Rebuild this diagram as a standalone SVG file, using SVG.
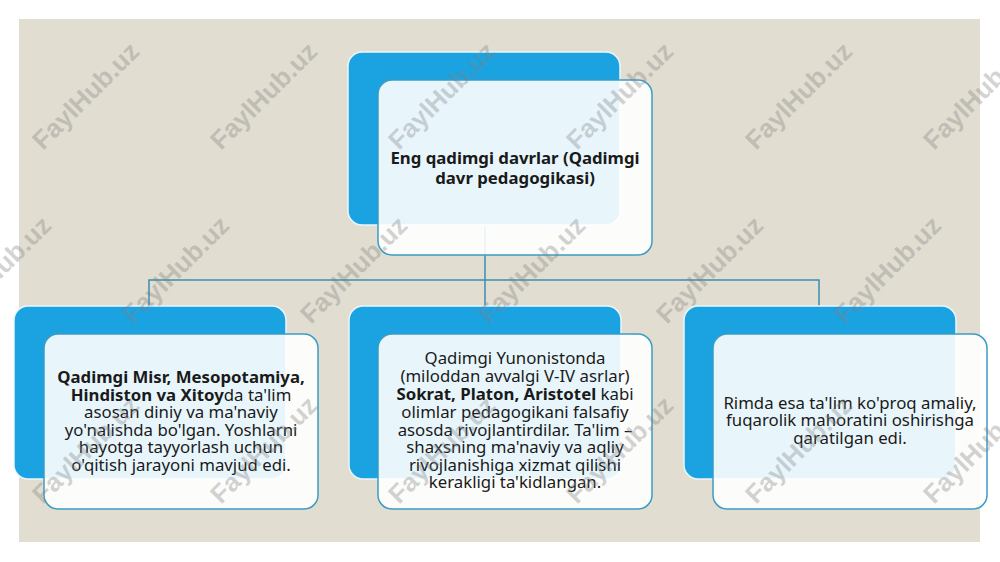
<svg xmlns="http://www.w3.org/2000/svg" width="1000" height="562" viewBox="0 0 1000 562">
<style>
.back{fill:#1BA3E1;stroke:#EAF6FB;stroke-width:1.5}
.front{fill:#FFFFFF;fill-opacity:0.9;stroke:#3B9CC4;stroke-width:1.5}
.t{font-family:"Noto Sans","Open Sans","DejaVu Sans",sans-serif;font-size:16.8px;fill:#1a1a1a;text-anchor:middle}
.b{font-weight:bold}
.conn{fill:none;stroke:#3A8FB2;stroke-width:1.5}
.wm{font-family:"Liberation Sans",Arial,sans-serif;font-weight:bold;font-size:26px;fill:#808080;fill-opacity:0.34;text-anchor:middle}
</style>
<rect x="0" y="0" width="1000" height="562" fill="#FFFFFF"/>
<rect x="19" y="19" width="961" height="523" fill="#E1DDD0"/>
<g id="connectors">
<path class="conn" d="M485,225 V280 M149,306 V280 H819 V306 M485,280 V306"/>
</g>
<g id="node-top">
<rect class="back" x="348" y="52" width="272" height="173" rx="14"/>
<rect class="front" x="378" y="80" width="274" height="175" rx="14"/>
<text class="t b" x="515" y="164">Eng qadimgi davrlar (Qadimgi</text>
<text class="t b" x="515" y="183.5">davr pedagogikasi)</text>
</g>
<g id="node-left">
<rect class="back" x="14" y="306" width="272" height="173" rx="14"/>
<rect class="front" x="44" y="334" width="274" height="175" rx="14"/>
<text class="t" x="181" y="383"><tspan class="b">Qadimgi Misr, Mesopotamiya,</tspan></text>
<text class="t" x="181" y="400.5"><tspan class="b">Hindiston va Xitoy</tspan>da ta'lim</text>
<text class="t" x="181" y="418">asosan diniy va ma'naviy</text>
<text class="t" x="181" y="435.5">yo'nalishda bo'lgan. Yoshlarni</text>
<text class="t" x="181" y="453">hayotga tayyorlash uchun</text>
<text class="t" x="181" y="470.5">o'qitish jarayoni mavjud edi.</text>
</g>
<g id="node-middle">
<rect class="back" x="349" y="306" width="272" height="173" rx="14"/>
<rect class="front" x="378" y="334" width="274" height="175" rx="14"/>
<text class="t" x="515" y="363.5">Qadimgi Yunonistonda</text>
<text class="t" x="515" y="381.5">(miloddan avvalgi V-IV asrlar)</text>
<text class="t" x="515" y="399.5"><tspan class="b">Sokrat, Platon, Aristotel</tspan> kabi</text>
<text class="t" x="515" y="417.5">olimlar pedagogikani falsafiy</text>
<text class="t" x="515" y="435.5">asosda rivojlantirdilar. Ta'lim –</text>
<text class="t" x="515" y="453">shaxsning ma'naviy va aqliy</text>
<text class="t" x="515" y="470.5">rivojlanishiga xizmat qilishi</text>
<text class="t" x="515" y="488">kerakligi ta'kidlangan.</text>
</g>
<g id="node-right">
<rect class="back" x="684" y="306" width="272" height="173" rx="14"/>
<rect class="front" x="713" y="334" width="274" height="175" rx="14"/>
<text class="t" x="850" y="408.5">Rimda esa ta'lim ko'proq amaliy,</text>
<text class="t" x="850" y="426">fuqarolik mahoratini oshirishga</text>
<text class="t" x="850" y="443.5">qaratilgan edi.</text>
</g>
<g id="watermarks">
<text class="wm" transform="translate(92,102) rotate(-45)">FaylHub.uz</text>
<text class="wm" transform="translate(270,102) rotate(-45)">FaylHub.uz</text>
<text class="wm" transform="translate(448,102) rotate(-45)">FaylHub.uz</text>
<text class="wm" transform="translate(626,102) rotate(-45)">FaylHub.uz</text>
<text class="wm" transform="translate(805,102) rotate(-45)">FaylHub.uz</text>
<text class="wm" transform="translate(983,102) rotate(-45)">FaylHub.uz</text>
<text class="wm" transform="translate(4,276) rotate(-45)">FaylHub.uz</text>
<text class="wm" transform="translate(182,276) rotate(-45)">FaylHub.uz</text>
<text class="wm" transform="translate(360,276) rotate(-45)">FaylHub.uz</text>
<text class="wm" transform="translate(538,276) rotate(-45)">FaylHub.uz</text>
<text class="wm" transform="translate(716,276) rotate(-45)">FaylHub.uz</text>
<text class="wm" transform="translate(894,276) rotate(-45)">FaylHub.uz</text>
<text class="wm" transform="translate(92,456) rotate(-45)">FaylHub.uz</text>
<text class="wm" transform="translate(270,456) rotate(-45)">FaylHub.uz</text>
<text class="wm" transform="translate(448,456) rotate(-45)">FaylHub.uz</text>
<text class="wm" transform="translate(626,456) rotate(-45)">FaylHub.uz</text>
<text class="wm" transform="translate(805,456) rotate(-45)">FaylHub.uz</text>
<text class="wm" transform="translate(983,456) rotate(-45)">FaylHub.uz</text>
</g>
</svg>
